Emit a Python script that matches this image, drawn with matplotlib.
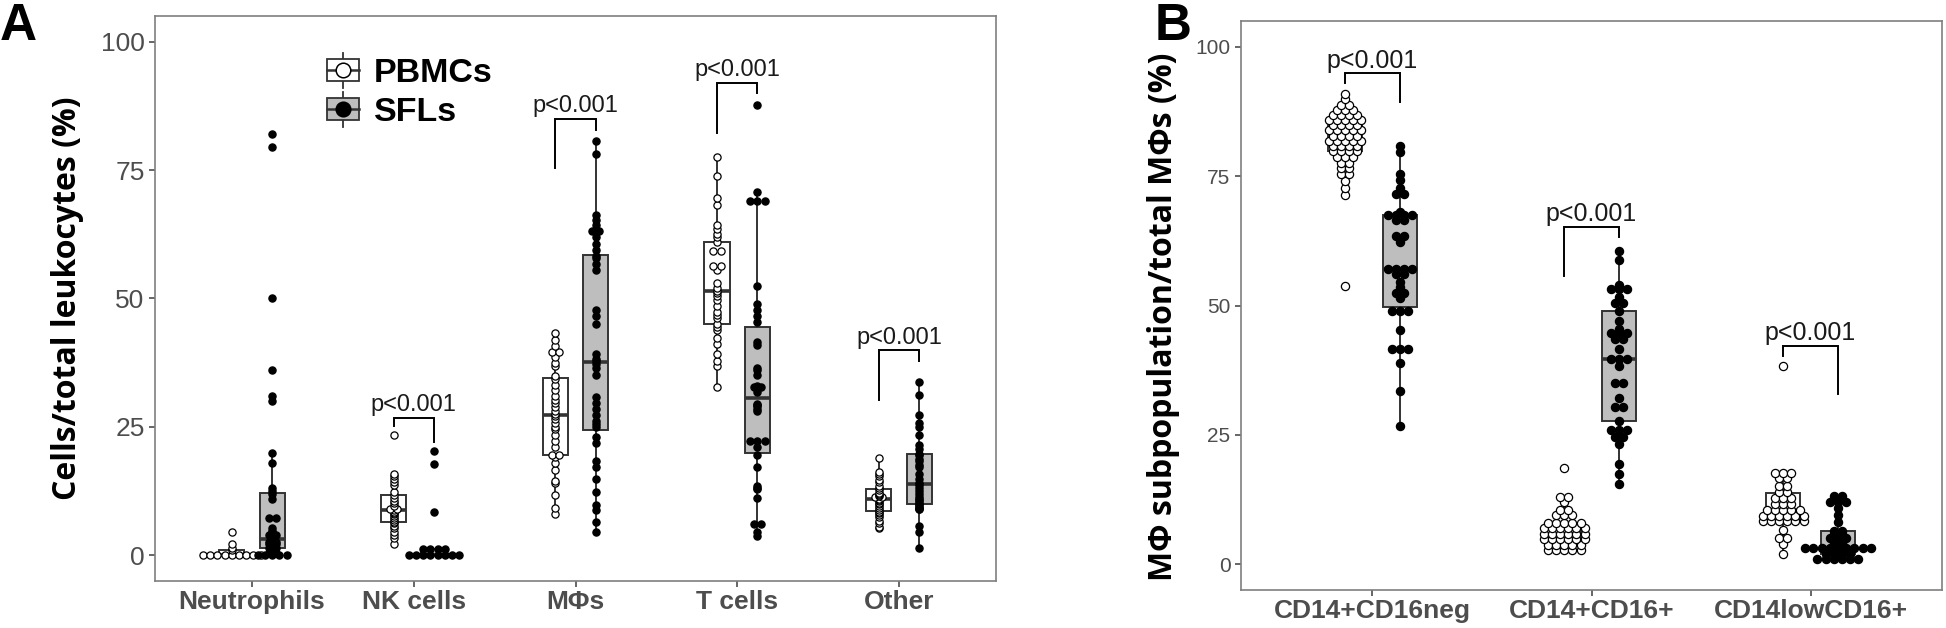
import matplotlib
matplotlib.use("Agg")
import matplotlib.pyplot as plt
import numpy as np
from matplotlib.legend_handler import HandlerBase
from matplotlib.patches import Rectangle
from matplotlib.lines import Line2D

# ---------------- data: panel A ----------------
cats_a = ["Neutrophils", "NK cells", "MΦs", "T cells", "Other"]
neut_pbmc = [0, 0, 0, 0, 0, 0, 0, 0, 0, 1.0, 1.4, 2.2, 4.6]
neut_sfl = [82, 79.5, 50, 36, 31, 30, 20, 18, 13.2, 12.5, 12, 11, 7.3, 7.3, 5.3, 4.8,
            4.5, 4.0, 4.0, 3.5, 2.8, 2.7, 2.6, 2.5, 2.5, 2.2, 2.2, 2.0, 1.8, 1.5, 1.5,
            1.2, 1.0, 0.5, 0.5, 0, 0, 0, 0, 0]
nk_pbmc = [23.4, 15.9, 15.5, 14.8, 14.2, 13.6, 12.4, 11.8, 11.2, 10.6, 10.1, 9.6, 9.1,
           9.1, 8.8, 8.5, 8.3, 8.1, 7.6, 7.3, 6.9, 6.5, 6.2, 5.7, 5.3, 4.6, 4.0, 3.4, 2.2]
nk_sfl = [20.4, 17.8, 8.4, 1.2, 1.2, 1.2, 1.2, 0, 0, 0, 0, 0, 0, 0, 0]
mph_pbmc = [43.2, 42.0, 40.8, 39.5, 39.5, 38.7, 37.5, 36.8, 35.0, 34.3, 33.2, 32.2, 31.0,
            30.2, 29.6, 28.8, 28.0, 27.6, 27.2, 26.6, 25.8, 25.0, 24.5, 23.4, 22.2, 21.0,
            19.6, 19.6, 19.2, 17.9, 16.7, 14.4, 14.0, 11.8, 9.3, 8.1]
mph_sfl = [80.6, 78.2, 66.2, 65.2, 64.3, 63.1, 63.1, 61.9, 60.7, 59.5, 58.2, 57.8, 56.8,
           55.6, 47.8, 46.6, 45.0, 39.1, 38.3, 37.9, 37.2, 36.4, 35.2, 30.9, 29.7, 28.5,
           27.3, 26.2, 25.5, 24.9, 23.0, 21.8, 18.3, 17.1, 14.8, 12.4, 9.7, 8.9, 6.5, 4.6]
t_pbmc = [77.5, 73.9, 69.6, 68.3, 64.3, 63.5, 62.5, 61.9, 61.0, 59.2, 59.2, 56.4, 56.4,
          55.6, 53.0, 52.1, 51.5, 51.1, 50.5, 49.7, 48.5, 47.4, 46.8, 46.2, 45.0, 44.4,
          43.8, 42.4, 41.1, 39.1, 37.9, 36.8, 32.8]
t_sfl = [87.7, 70.8, 69.0, 69.0, 69.0, 52.5, 48.9, 47.8, 46.6, 45.4, 41.5, 41.0, 36.4,
         36.0, 35.2, 33.0, 32.8, 32.8, 31.7, 29.5, 29.2, 29.0, 28.5, 28.1, 22.2, 22.2,
         22.2, 21.1, 19.5, 17.1, 13.4, 13.2, 13.0, 11.2, 6.1, 6.1, 4.6, 3.8]
other_pbmc = [18.9, 16.3, 15.8, 15.4, 14.6, 14.2, 13.4, 13.2, 12.8, 12.2, 12.0, 11.8,
              11.6, 11.4, 11.4, 11.0, 10.8, 10.5, 10.2, 10.0, 9.6, 9.3, 8.8, 8.5, 8.3,
              7.9, 7.5, 6.6, 6.2, 5.6, 5.3]
other_sfl = [33.8, 31.3, 27.3, 25.8, 25.0, 23.4, 21.4, 20.7, 19.8, 19.5, 18.8, 18.3,
             17.6, 17.1, 15.9, 14.8, 14.0, 13.6, 13.2, 12.6, 12.0, 11.4, 11.0, 10.8,
             10.3, 9.9, 9.7, 9.5, 9.2, 9.1, 9.0, 5.7, 4.6, 1.4]
pbmc_a = [neut_pbmc, nk_pbmc, mph_pbmc, t_pbmc, other_pbmc]
sfl_a = [neut_sfl, nk_sfl, mph_sfl, t_sfl, other_sfl]
ptext_a = [None, "p<0.001", "p<0.001", "p<0.001", "p<0.001"]

# ---------------- data: panel B ----------------
cats_b = ["CD14+CD16neg", "CD14+CD16+", "CD14lowCD16+"]
neg_pbmc = [90.9, 89.9, 88.8, 88.8, 87.8, 87.8, 87.8, 86.9, 86.9, 86.9, 86.9, 85.9, 85.9,
            85.9, 85.9, 85.9, 84.9, 84.9, 84.9, 84.9, 83.9, 83.9, 83.9, 83.9, 83.9, 82.8,
            82.8, 82.8, 82.8, 81.8, 81.8, 81.8, 81.8, 81.8, 80.8, 80.8, 80.8, 80.8, 79.8,
            79.8, 79.8, 79.8, 78.8, 78.8, 78.8, 77.6, 77.6, 76.5, 76.5, 75.5, 75.5, 74.1,
            72.8, 71.3, 53.8]
neg_sfl = [80.8, 79.6, 75.5, 74.2, 72.8, 71.5, 71.5, 68.0, 67.5, 67.5, 67.5, 67.5,
           66.5, 66.5, 63.5, 63.5, 62.3, 57.0, 57.0, 57.0, 57.0, 56.0, 56.0, 54.5, 53.5,
           52.5, 52.5, 51.5, 49.0, 49.0, 49.0, 45.3, 41.5, 41.5, 41.5, 38.8, 33.5, 26.8]
pos_pbmc = [18.6, 13.0, 13.0, 12.0, 10.5, 10.5, 9.5, 9.5, 9.5, 8.0, 8.0, 8.0, 8.0, 8.0,
            7.0, 7.0, 7.0, 7.0, 7.0, 7.0, 5.8, 5.8, 5.8, 5.8, 5.8, 5.8, 4.8, 4.8, 4.8,
            4.8, 4.8, 4.8, 3.7, 3.7, 3.7, 3.7, 3.7, 2.7, 2.7, 2.7, 2.7, 2.7]
pos_sfl = [60.5, 58.7, 54.0, 53.2, 53.2, 53.2, 51.7, 50.5, 50.5, 49.0, 47.0, 45.5, 44.7,
           44.7, 44.7, 43.5, 43.5, 41.6, 39.6, 39.6, 39.6, 38.3, 35.0, 35.0, 32.2, 30.3,
           30.3, 27.6, 26.0, 26.0, 26.0, 24.5, 24.5, 23.3, 19.4, 17.5, 15.5]
low_pbmc = [38.3, 17.6, 17.6, 17.6, 16.7, 16.7, 15.2, 15.2, 14.0, 14.0, 12.8, 12.8, 12.8,
            11.7, 11.7, 11.7, 10.5, 10.5, 10.5, 10.5, 10.5, 9.3, 9.3, 9.3, 9.3, 9.3, 9.3,
            8.3, 8.3, 8.3, 8.3, 8.3, 8.3, 6.6, 5.0, 5.0, 3.9, 1.9]
low_sfl = [13.2, 13.2, 12.0, 12.0, 12.0, 10.8, 9.5, 8.2, 6.4, 6.4, 5.8, 5.8, 5.0, 5.0,
           5.0, 4.0, 4.0, 3.1, 3.1, 3.1, 3.1, 3.1, 3.1, 3.1, 3.1, 3.1, 2.0, 2.0, 2.0,
           2.0, 1.0, 1.0, 1.0, 1.0, 1.0, 1.0]
pbmc_b = [neg_pbmc, pos_pbmc, low_pbmc]
sfl_b = [neg_sfl, pos_sfl, low_sfl]
ptext_b = ["p<0.001", "p<0.001", "p<0.001"]

# ---------------- layout (annotation positions, not data) ----------------
# (left leg bottom, bracket top, right leg bottom, text centre)
brackets_a = [None, (25.1, 26.8, 22.0, 29.2), (75.4, 84.9, 82.9, 87.4),
              (82.3, 91.9, 90.0, 94.5), (30.2, 39.9, 37.8, 42.4)]
brackets_b = [(93.0, 95.0, 89.4, 97.3), (55.7, 65.1, 63.3, 67.6), (40.2, 42.2, 32.9, 44.6)]

W, H = 1946, 628
plt.rcParams['font.family'] = ['Liberation Sans', 'DejaVu Sans']
fig = plt.figure(figsize=(W / 100, H / 100), dpi=100)

EDGE = '#333333'
GRAYFILL = '#BEBEBE'
TICKC = '#4D4D4D'


def px_axes(l, r, t, b):
    return fig.add_axes([l / W, 1 - b / H, (r - l) / W, (b - t) / H])


def draw_panel(ax, cats, pbmc, sfl, ptexts, brackets, dot_px, ptsize):
    n = len(cats)
    ax.set_xlim(-0.6, n - 0.4)
    ax.set_ylim(-5, 105)
    x = np.arange(n)
    off, bw = 0.125, 0.155
    for groups, dx, fc in [(pbmc, -off, 'white'), (sfl, off, GRAYFILL)]:
        ax.boxplot(groups, positions=x + dx, widths=bw, patch_artist=True,
                   showfliers=False, showcaps=False, whis=1.5, manage_ticks=False,
                   boxprops=dict(facecolor=fc, edgecolor=EDGE, linewidth=1.4),
                   whiskerprops=dict(color=EDGE, linewidth=1.4),
                   medianprops=dict(color=EDGE, linewidth=2.6), zorder=2)
    # dot stacking
    axw_px = ax.get_position().width * W
    unit_px = axw_px / (ax.get_xlim()[1] - ax.get_xlim()[0])
    sp = dot_px * 1.0 / unit_px
    ms = dot_px * 72 / 100
    for groups, dx, fc in [(pbmc, -off, 'white'), (sfl, off, 'black')]:
        for i, vals in enumerate(groups):
            v = np.asarray(vals, float)
            uniq, cnt = np.unique(v, return_counts=True)
            xs, ys = [], []
            for u, c in zip(uniq, cnt):
                xs.extend(i + dx + (np.arange(c) - (c - 1) / 2) * sp)
                ys.extend([u] * c)
            ax.scatter(xs, ys, s=ms ** 2, facecolor=fc, edgecolor='black',
                       linewidth=0.9, zorder=3)
    for i, (pt, br) in enumerate(zip(ptexts, brackets)):
        if pt is None:
            continue
        x1, x2 = i - off, i + off
        ax.plot([x1, x1, x2, x2], [br[0], br[1], br[1], br[2]], color='black',
                lw=1.4, zorder=4, solid_joinstyle='miter')
        ax.text(i, br[3], pt, ha='center', va='center', fontsize=ptsize, color='#1a1a1a')
    ax.set_xticks(x)
    ax.set_xticklabels(cats)
    ax.set_yticks([0, 25, 50, 75, 100])
    for s in ax.spines.values():
        s.set_color('#7F7F7F')
        s.set_linewidth(1.2)
    ax.tick_params(axis='both', direction='out', length=4.5, width=1.2, color='#4D4D4D',
                   labelcolor=TICKC)


# ---------- Panel A ----------
axA = px_axes(155, 996, 16, 581)
draw_panel(axA, cats_a, pbmc_a, sfl_a, ptext_a, brackets_a, 7.2, 17)
axA.tick_params(axis='y', labelsize=19, pad=3)
axA.tick_params(axis='x', labelsize=19, pad=2)
for t in axA.get_xticklabels():
    t.set_fontweight('bold')
axA.set_ylabel('Cells/total leukocytes (%)', fontsize=23, fontweight='bold',
               family=['Open Sans', 'DejaVu Sans'], ha='center', va='center')
axA.yaxis.set_label_coords((68 - 155) / 841, 0.5)


class BoxDotHandler(HandlerBase):
    def __init__(self, fill, dot):
        super().__init__()
        self.fill, self.dot = fill, dot

    def create_artists(self, legend, orig_handle, xdescent, ydescent, width, height,
                       fontsize, trans):
        cx = width / 2 - xdescent
        cy = height / 2 - ydescent
        bh = height * 0.78
        rect = Rectangle((cx - width / 2, cy - bh / 2), width, bh, facecolor=self.fill,
                         edgecolor=EDGE, lw=1.3, transform=trans)
        wl = Line2D([cx, cx], [cy - height * 0.62, cy + height * 0.62], color=EDGE,
                    lw=1.3, transform=trans)
        ml = Line2D([cx - width / 2, cx + width / 2], [cy, cy], color=EDGE, lw=1.8,
                    transform=trans)
        dot = Line2D([cx], [cy], marker='o', markersize=10.5, markerfacecolor=self.dot,
                     markeredgecolor='black', markeredgewidth=1.1, transform=trans)
        return [wl, rect, ml, dot]


hP = Rectangle((0, 0), 1, 1, facecolor='white')
hS = Rectangle((0, 0), 1, 1, facecolor=GRAYFILL)
leg = axA.legend([hP, hS], ['PBMCs', 'SFLs'], loc='upper left',
                 bbox_to_anchor=((327 - 155) / 841, 1 - (56 - 16) / 565),
                 frameon=False, prop=dict(size=24.5, weight='bold'), handlelength=0.95,
                 handleheight=0.9, handletextpad=0.42, labelspacing=0.18, borderpad=0,
                 borderaxespad=0,
                 handler_map={hP: BoxDotHandler('white', 'white'),
                              hS: BoxDotHandler(GRAYFILL, 'black')})

# ---------- Panel B ----------
axB = px_axes(1241, 1942, 21, 590)
draw_panel(axB, cats_b, pbmc_b, sfl_b, ptext_b, brackets_b, 8.2, 18)
axB.tick_params(axis='y', labelsize=15, pad=3)
axB.tick_params(axis='x', labelsize=19, pad=2)
for t in axB.get_xticklabels():
    t.set_fontweight('bold')
axB.set_ylabel('MΦ subpopulation/total MΦs (%)', fontsize=23, fontweight='bold',
               family=['Open Sans', 'DejaVu Sans'], ha='center', va='center')
axB.yaxis.set_label_coords((1163 - 1241) / 701, 0.48)

fig.text(0 / W, 1 - 2 / H, 'A', fontsize=37, fontweight='bold', ha='left', va='top')
fig.text(1155 / W, 1 - 2 / H, 'B', fontsize=37, fontweight='bold', ha='left', va='top')

fig.savefig('out.png', dpi=100)
